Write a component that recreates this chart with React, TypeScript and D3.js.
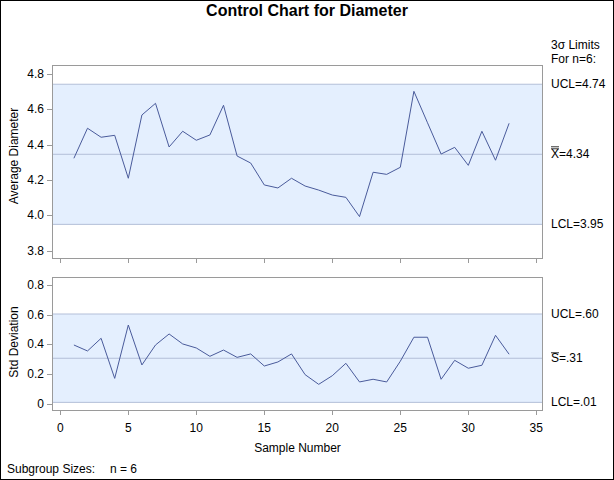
import React from "react";
import * as d3 from "d3";

const samples: number[] = Array.from({ length: 33 }, (_, i) => i + 1);
const meanValues: number[] = [
  4.323, 4.493, 4.442, 4.453, 4.21, 4.568, 4.634, 4.387, 4.476, 4.425, 4.455,
  4.623, 4.336, 4.296, 4.172, 4.155, 4.21, 4.166, 4.143, 4.115, 4.102, 3.993,
  4.244, 4.232, 4.272, 4.702, 4.524, 4.347, 4.385, 4.283, 4.476, 4.312, 4.521,
];
const sdValues: number[] = [
  0.396, 0.356, 0.441, 0.172, 0.53, 0.262, 0.396, 0.47, 0.403, 0.376, 0.32,
  0.362, 0.313, 0.336, 0.255, 0.282, 0.336, 0.197, 0.132, 0.19, 0.273, 0.148,
  0.166, 0.148, 0.287, 0.448, 0.448, 0.166, 0.293, 0.24, 0.26, 0.461, 0.334,
];
const meanLimits = { lcl: 3.949, center: 4.3456, ucl: 4.742 };
const sdLimits = { lcl: 0.011, center: 0.307, ucl: 0.604 };
const meanTicks: number[] = [3.8, 4.0, 4.2, 4.4, 4.6, 4.8];
const sdTicks: number[] = [0, 0.2, 0.4, 0.6, 0.8];
const xTicks: number[] = [0, 5, 10, 15, 20, 25, 30, 35];
const meanLabels = { ucl: "UCL=4.74", center: "=4.34", lcl: "LCL=3.95" };
const sdLabels = { ucl: "UCL=.60", center: "=.31", lcl: "LCL=.01" };

const W = 614;
const H = 480;
const FONT = "'Liberation Sans', Arial, sans-serif";
const FRAME = "#9a9a9a";
const BAND = "#e4effe";
const LIMIT = "#b3bfd8";
const LINE = "#4a5b9b";

const frameL = 52;
const frameR = 543;

const x = d3.scaleLinear().domain([0, 35]).range([60.3, 536.3]);

type PanelProps = {
  top: number;
  bottom: number;
  y: d3.ScaleLinear<number, number>;
  values: number[];
  limits: { lcl: number; center: number; ucl: number };
  ticks: number[];
  tickFmt: (v: number) => string;
  labels: { ucl: string; center: string; lcl: string };
  centerSym: string;
  bars: number;
  title: string;
  titleY: number;
  showXLabels: boolean;
};

function Panel(p: PanelProps) {
  const line = d3
    .line<number>()
    .x((_, i) => x(samples[i]))
    .y((d) => p.y(d));
  const yU = p.y(p.limits.ucl);
  const yC = p.y(p.limits.center);
  const yL = p.y(p.limits.lcl);
  const lx = 551;
  return (
    <g>
      <rect x={frameL} y={yU} width={frameR - frameL} height={yL - yU} fill={BAND} />
      <line x1={frameL} x2={frameR} y1={yU} y2={yU} stroke={LIMIT} strokeWidth={1} />
      <line x1={frameL} x2={frameR} y1={yC} y2={yC} stroke={LIMIT} strokeWidth={1} />
      <line x1={frameL} x2={frameR} y1={yL} y2={yL} stroke={LIMIT} strokeWidth={1} />
      <path d={line(p.values) || ""} fill="none" stroke={LINE} strokeWidth={1} />
      <rect
        x={frameL + 0.5}
        y={p.top + 0.5}
        width={frameR - frameL - 1}
        height={p.bottom - p.top - 1}
        fill="none"
        stroke={FRAME}
        strokeWidth={1}
      />
      {p.ticks.map((t) => (
        <g key={"y" + t}>
          <line x1={frameL - 5} x2={frameL} y1={Math.round(p.y(t)) + 0.5} y2={Math.round(p.y(t)) + 0.5} stroke={FRAME} />
          <text x={44} y={p.y(t) + 4} textAnchor="end" fontSize={12} fontFamily={FONT} fill="#000">
            {p.tickFmt(t)}
          </text>
        </g>
      ))}
      {xTicks.map((t) => (
        <g key={"x" + t}>
          <line x1={Math.round(x(t)) + 0.5} x2={Math.round(x(t)) + 0.5} y1={p.bottom} y2={p.bottom + 4} stroke={FRAME} />
          {p.showXLabels && (
            <text x={x(t)} y={p.bottom + 21} textAnchor="middle" fontSize={12} fontFamily={FONT} fill="#000">
              {t}
            </text>
          )}
        </g>
      ))}
      <text
        transform={`translate(18,${p.titleY}) rotate(-90)`}
        textAnchor="middle"
        fontSize={12}
        fontFamily={FONT}
        fill="#000"
      >
        {p.title}
      </text>
      <text x={lx} y={yU + 4} fontSize={12} fontFamily={FONT} fill="#000">
        {p.labels.ucl}
      </text>
      <text x={lx} y={yC + 4} fontSize={12} fontFamily={FONT} fill="#000">
        <tspan>{p.centerSym}</tspan>
        <tspan>{p.labels.center}</tspan>
      </text>
      {Array.from({ length: p.bars }, (_, k) => (
        <line
          key={"bar" + k}
          x1={lx}
          x2={lx + 8}
          y1={yC - 5.5 - k * 2}
          y2={yC - 5.5 - k * 2}
          stroke="#000"
          strokeWidth={0.8}
        />
      ))}
      <text x={lx} y={yL + 4} fontSize={12} fontFamily={FONT} fill="#000">
        {p.labels.lcl}
      </text>
    </g>
  );
}

export default function App() {
  const yMean = d3.scaleLinear().domain([3.8, 4.8]).range([250.7, 74]);
  const ySd = d3.scaleLinear().domain([0, 0.8]).range([404, 284.8]);
  return (
    <svg
      width={W}
      height={H}
      style={{ position: "absolute", left: 0, top: 0, display: "block", background: "#fff" }}
    >
      <rect x={0.5} y={0.5} width={W - 1} height={H - 1} fill="#fff" stroke="#000" strokeWidth={1} />
      <text x={W / 2} y={16} textAnchor="middle" fontSize={16} fontWeight="bold" fontFamily={FONT} fill="#000">
        Control Chart for Diameter
      </text>
      <text x={551} y={49} fontSize={12} fontFamily={FONT} fill="#000">
        3σ Limits
      </text>
      <text x={551} y={63} fontSize={12} fontFamily={FONT} fill="#000">
        For n=6:
      </text>
      <Panel
        top={65}
        bottom={259}
        y={yMean}
        values={meanValues}
        limits={meanLimits}
        ticks={meanTicks}
        tickFmt={(v) => d3.format(".1f")(v)}
        labels={meanLabels}
        centerSym="X"
        bars={2}
        title="Average Diameter"
        titleY={156}
        showXLabels={false}
      />
      <Panel
        top={277}
        bottom={411}
        y={ySd}
        values={sdValues}
        limits={sdLimits}
        ticks={sdTicks}
        tickFmt={(v) => (v === 0 ? "0" : d3.format(".1f")(v))}
        labels={sdLabels}
        centerSym="S"
        bars={1}
        title="Std Deviation"
        titleY={342}
        showXLabels={true}
      />
      <text x={(frameL + frameR) / 2} y={452} textAnchor="middle" fontSize={12} fontFamily={FONT} fill="#000">
        Sample Number
      </text>
      <text x={7} y={473} fontSize={12} fontFamily={FONT} fill="#000">
        Subgroup Sizes:
      </text>
      <text x={110} y={473} fontSize={12} fontFamily={FONT} fill="#000">
        n = 6
      </text>
    </svg>
  );
}
